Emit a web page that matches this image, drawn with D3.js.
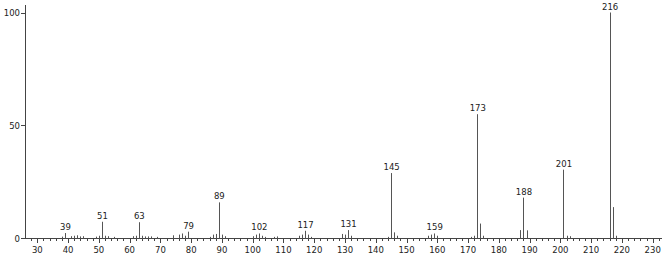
<!DOCTYPE html>
<html>
<head>
<meta charset="utf-8">
<script src="https://cdn.jsdelivr.net/npm/d3@7"></script>
<style>
  html, body { margin: 0; padding: 0; background: #fff; }
  svg { display: block; }
  text { font-family: "DejaVu Sans", Verdana, sans-serif; font-size: 8.5px; fill: #222; }
</style>
</head>
<body>
<svg id="chart" width="666" height="254"></svg>
<script>
// m/z values and relative intensities
const mz = [38, 39, 41, 42, 43, 44, 45, 49, 50, 51, 52, 53, 55,
            61, 62, 63, 64, 65, 66, 67, 69, 74, 76, 77, 78, 79,
            86, 87, 88, 89, 90, 91, 100, 101, 102, 103, 104, 107, 108,
            115, 116, 117, 118, 119, 129, 130, 131, 132,
            144, 145, 146, 147, 157, 158, 159, 160,
            171, 172, 173, 174, 175, 187, 188, 189,
            201, 202, 203, 216, 217, 218];
const intensity = [0.6, 2.2, 0.8, 1.0, 1.2, 0.7, 0.8, 0.6, 1.0, 7.2, 1.0, 0.8, 0.5,
                   0.8, 1.0, 7.0, 1.0, 0.7, 0.7, 0.7, 0.5, 1.2, 1.5, 2.0, 1.0, 2.8,
                   0.5, 1.5, 1.8, 15.8, 1.5, 0.8, 0.8, 1.5, 2.0, 1.0, 0.5, 0.5, 0.7,
                   1.0, 1.5, 3.2, 1.5, 0.5, 1.8, 1.5, 3.5, 1.0,
                   0.5, 28.8, 2.5, 1.0, 1.0, 1.5, 2.0, 1.0,
                   0.5, 1.0, 54.9, 6.4, 1.0, 3.5, 17.9, 3.4,
                   30.3, 1.0, 0.8, 100, 13.7, 1.0];
const labelled = [39, 51, 63, 79, 89, 102, 117, 131, 145, 159, 173, 188, 201, 216];
const xTicks = [30, 40, 50, 60, 70, 80, 90, 100, 110, 120, 130, 140, 150, 160, 170, 180, 190, 200, 210, 220, 230];
const yTicks = [0, 50, 100];

const svg = d3.select("#chart");
const x = d3.scaleLinear().domain([26, 234]).range([25, 665]);
const y = d3.scaleLinear().domain([0, 100]).range([238, 12.5]);
const axisColor = "#444";
const snap = v => Math.round(v) + 0.5;

// x axis line
svg.append("line")
  .attr("x1", 25).attr("x2", 662)
  .attr("y1", snap(y(0))).attr("y2", snap(y(0)))
  .attr("stroke", axisColor).attr("stroke-width", 1);

// minor ticks every 2 units
const minor = d3.range(28, 234, 2).filter(v => v % 10 !== 0);
svg.selectAll("line.minor").data(minor).enter().append("line")
  .attr("class", "minor")
  .attr("x1", d => snap(x(d))).attr("x2", d => snap(x(d)))
  .attr("y1", snap(y(0))).attr("y2", snap(y(0)) + 2.5)
  .attr("stroke", axisColor);

// major ticks
svg.selectAll("line.major").data(xTicks).enter().append("line")
  .attr("class", "major")
  .attr("x1", d => snap(x(d))).attr("x2", d => snap(x(d)))
  .attr("y1", snap(y(0))).attr("y2", snap(y(0)) + 4.5)
  .attr("stroke", axisColor);

svg.selectAll("text.xt").data(xTicks).enter().append("text")
  .attr("class", "xt")
  .attr("x", d => x(d)).attr("y", 253)
  .attr("text-anchor", "middle")
  .text(d => d);

// y axis
svg.append("line")
  .attr("x1", 25.5).attr("x2", 25.5)
  .attr("y1", 5).attr("y2", snap(y(0)))
  .attr("stroke", axisColor);
svg.selectAll("line.yt").data(yTicks).enter().append("line")
  .attr("class", "yt")
  .attr("x1", 21).attr("x2", 25.5)
  .attr("y1", d => snap(y(d))).attr("y2", d => snap(y(d)))
  .attr("stroke", axisColor);
svg.selectAll("text.ytl").data(yTicks).enter().append("text")
  .attr("class", "ytl")
  .attr("x", 20).attr("y", d => y(d) + 3.5)
  .attr("text-anchor", "end")
  .text(d => d);

// peaks
const peaks = mz.map((m, i) => ({ m, v: intensity[i] }));
svg.selectAll("line.peak").data(peaks).enter().append("line")
  .attr("class", "peak")
  .attr("x1", d => snap(x(d.m))).attr("x2", d => snap(x(d.m)))
  .attr("y1", snap(y(0))).attr("y2", d => y(d.v))
  .attr("stroke", "#555").attr("stroke-width", 1);

// peak labels
svg.selectAll("text.pl").data(peaks.filter(d => labelled.includes(d.m))).enter().append("text")
  .attr("class", "pl")
  .attr("x", d => x(d.m) + 0.5).attr("y", d => y(d.v) - 3)
  .attr("text-anchor", "middle")
  .text(d => d.m);
</script>
</body>
</html>
